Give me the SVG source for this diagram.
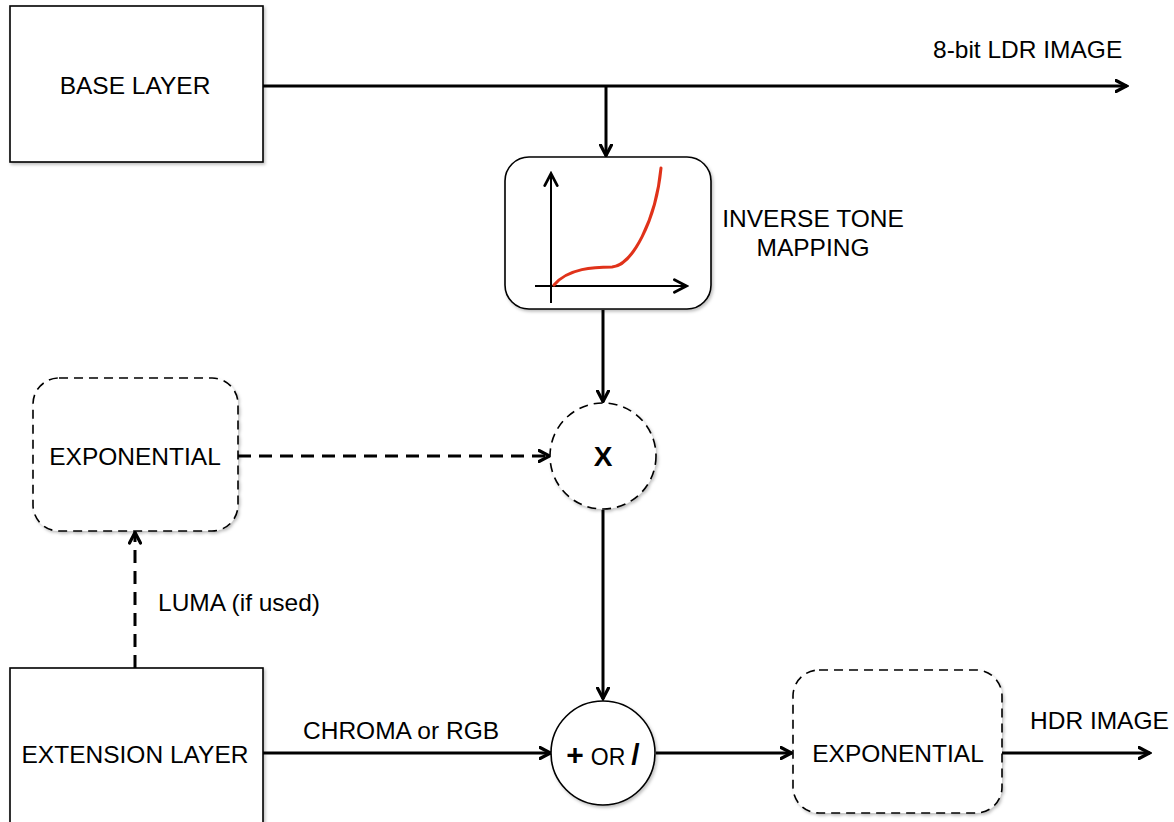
<svg xmlns="http://www.w3.org/2000/svg" width="1174" height="822" viewBox="0 0 1174 822">
  <style>
    .box { fill: #fff; stroke: #000; stroke-width: 1.6; }
    .dbox { fill: #fff; stroke: #000; stroke-width: 1.6; stroke-dasharray: 9 6; }
    .lbl { font-family: "Liberation Sans", Arial, sans-serif; font-size: 24.5px; fill: #000; }
    .wire { fill: none; stroke: #000; stroke-width: 3; }
    .dwire { fill: none; stroke: #000; stroke-width: 3; stroke-dasharray: 13 8; }
  </style>
  <defs>
    <marker id="arr" viewBox="0 0 14 14" refX="12.5" refY="7" markerWidth="14" markerHeight="14" markerUnits="userSpaceOnUse" orient="auto">
      <path d="M1.5,1.5 L12,7 L1.5,12.5" fill="none" stroke="#000" stroke-width="3.2" stroke-linejoin="miter" stroke-linecap="round"/>
    </marker>
    <marker id="arrs" viewBox="0 0 14 14" refX="12.5" refY="7" markerWidth="16" markerHeight="16" markerUnits="userSpaceOnUse" orient="auto">
      <path d="M1.5,1.5 L12,7 L1.5,12.5" fill="none" stroke="#000" stroke-width="2.4" stroke-linejoin="miter" stroke-linecap="round"/>
    </marker>
    <filter id="sh" x="-10%" y="-10%" width="130%" height="130%">
      <feDropShadow dx="1.5" dy="2" stdDeviation="1.5" flood-color="#000" flood-opacity="0.25"/>
    </filter>
  </defs>
  <rect width="1174" height="822" fill="#fff"/>

  <g id="connectors">
    <path class="wire" d="M263,86 H1127" marker-end="url(#arr)"/>
    <path class="wire" d="M606,86 V156" marker-end="url(#arr)"/>
    <path class="wire" d="M603,310 V402" marker-end="url(#arr)"/>
    <path class="dwire" d="M238,456 H550" marker-end="url(#arr)"/>
    <path class="dwire" d="M135,668 V532" marker-end="url(#arr)"/>
    <path class="wire" d="M603,510 V699" marker-end="url(#arr)"/>
    <path class="wire" d="M263,753 H551" marker-end="url(#arr)"/>
    <path class="wire" d="M656,753 H792" marker-end="url(#arr)"/>
    <path class="wire" d="M1002,753 H1150" marker-end="url(#arr)"/>
    <text class="lbl" x="933" y="58">8-bit LDR IMAGE</text>
    <text class="lbl" x="158" y="611">LUMA (if used)</text>
    <text class="lbl" x="303" y="739">CHROMA or RGB</text>
    <text class="lbl" x="1030" y="729">HDR IMAGE</text>
  </g>

  <g id="base-layer">
    <rect class="box" x="10" y="6" width="253" height="156" filter="url(#sh)"/>
    <text class="lbl" x="135" y="94" text-anchor="middle">BASE LAYER</text>
  </g>

  <g id="inverse-tone-mapping">
    <rect class="box" x="505" y="157" width="206" height="152" rx="24" filter="url(#sh)"/>
    <path d="M551,303 V173" fill="none" stroke="#000" stroke-width="2" marker-end="url(#arrs)"/>
    <path d="M535,286 H687" fill="none" stroke="#000" stroke-width="2" marker-end="url(#arrs)"/>
    <path d="M554,285 C568,268 595,267 612,267 C632,266 656,220 661,168" fill="none" stroke="#e0321a" stroke-width="3" stroke-linecap="round"/>
    <text class="lbl" x="813" y="227" text-anchor="middle">INVERSE TONE</text>
    <text class="lbl" x="813" y="256" text-anchor="middle">MAPPING</text>
  </g>

  <g id="multiply">
    <circle class="dbox" cx="603" cy="456" r="53" filter="url(#sh)"/>
    <text x="603" y="466" text-anchor="middle" font-family="Liberation Sans, Arial, sans-serif" font-size="28" font-weight="bold">X</text>
  </g>

  <g id="exponential-luma">
    <rect class="dbox" x="33" y="378" width="205" height="153" rx="26" filter="url(#sh)"/>
    <text class="lbl" x="135" y="465" text-anchor="middle">EXPONENTIAL</text>
  </g>

  <g id="extension-layer">
    <rect class="box" x="10" y="668" width="253" height="170" filter="url(#sh)"/>
    <text class="lbl" x="135" y="763" text-anchor="middle">EXTENSION LAYER</text>
  </g>

  <g id="combine">
    <circle class="box" cx="603" cy="753" r="52" filter="url(#sh)"/>
    <text x="603" y="765" text-anchor="middle" font-family="Liberation Sans, Arial, sans-serif"><tspan font-size="30" font-weight="bold">+</tspan><tspan font-size="23" dx="7">OR</tspan><tspan font-size="30" font-weight="bold" dx="6">/</tspan></text>
  </g>

  <g id="exponential-out">
    <rect class="dbox" x="793" y="670" width="209" height="143" rx="26" filter="url(#sh)"/>
    <text class="lbl" x="898" y="762" text-anchor="middle">EXPONENTIAL</text>
  </g>
</svg>
